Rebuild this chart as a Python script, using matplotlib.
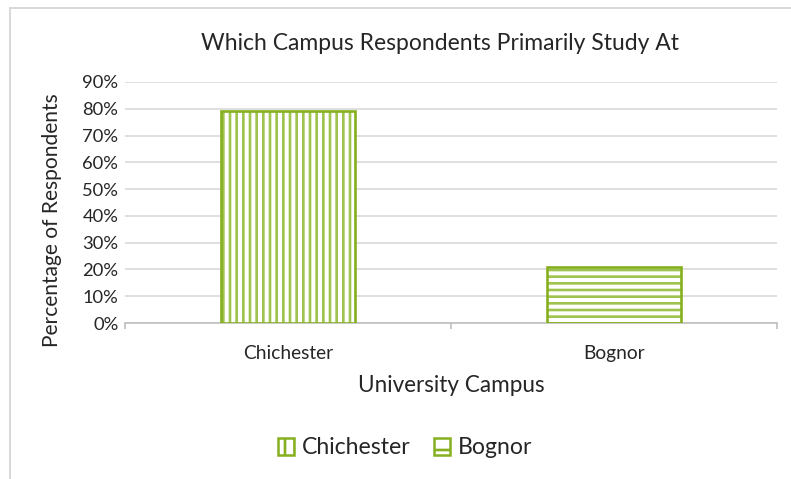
import matplotlib
matplotlib.use("Agg")
import matplotlib.pyplot as plt
from matplotlib.patches import Rectangle, Patch
from matplotlib.ticker import PercentFormatter

categories = ["Chichester", "Bognor"]
values = [0.79, 0.21]
hatches = ["|||", "---"]
yticks = [0, 0.1, 0.2, 0.3, 0.4, 0.5, 0.6, 0.7, 0.8, 0.9]

plt.rcParams['font.family'] = ['Lato', 'DejaVu Sans']
plt.rcParams['hatch.linewidth'] = 1.6

DPI = 120
W, H = 791, 479
fig = plt.figure(figsize=(W / DPI, H / DPI), dpi=DPI)
ax = fig.add_axes([125 / W, 1 - 323 / H, (777 - 125) / W, (323 - 82) / H])

green_dark = '#86b020'
green_light = '#a0c350'
txt = '#262626'

x = list(range(len(categories)))
for i, (v, h) in enumerate(zip(values, hatches)):
    ax.bar(x[i], v, width=0.41, color='white', edgecolor=green_light, hatch=h, linewidth=0, zorder=3)
    ax.bar(x[i], v, width=0.41, fill=False, edgecolor=green_dark, linewidth=1.6, zorder=4)

ax.set_xlim(-0.5, 1.5)
ax.set_ylim(0, 0.9)
ax.set_yticks(yticks)
ax.yaxis.set_major_formatter(PercentFormatter(1.0, decimals=0))
ax.grid(axis='y', color='#d9d9d9', linewidth=1.0, zorder=0)
ax.set_axisbelow(True)

ax.set_xticks(x)
ax.set_xticklabels(categories)
ax.set_xticks([-0.5, 0.5, 1.5], minor=True)
ax.tick_params(axis='x', which='major', length=0, pad=13, labelsize=11.5, labelcolor=txt)
ax.tick_params(axis='x', which='minor', length=3.5, color='#bfbfbf', width=1)
ax.tick_params(axis='y', length=0, pad=4, labelsize=11, labelcolor=txt)

for s in ['top', 'right', 'left']:
    ax.spines[s].set_visible(False)
ax.spines['bottom'].set_color('#bfbfbf')
ax.spines['bottom'].set_linewidth(1.0)

fig.text(440 / W, 1 - 43 / H, "Which Campus Respondents Primarily Study At",
         ha='center', va='center', fontsize=13.7, color=txt)
fig.text(451 / W, 1 - 385 / H, "University Campus", ha='center', va='center',
         fontsize=13.5, color=txt)
fig.text(52 / W, 1 - 220 / H, "Percentage of Respondents", ha='center', va='center',
         rotation=90, fontsize=12.6, color=txt)

handles = [Patch(facecolor='white', edgecolor=green_dark, hatch=hh, linewidth=1.5)
           for hh in ["||", "-"]]
fig.legend(handles, categories, loc='center', bbox_to_anchor=(405 / W, 1 - 448 / H),
           ncol=2, frameon=False, fontsize=13.8, handlelength=0.7, handleheight=0.7,
           handletextpad=0.35, columnspacing=1.0, labelcolor=txt)

fig.add_artist(Rectangle((10 / W, -0.2), 1.2, 1 - 8 / H + 0.2, transform=fig.transFigure,
                         fill=False, edgecolor='#d9d9d9', linewidth=1.2, clip_on=False))

fig.savefig("out.png", dpi=DPI)
